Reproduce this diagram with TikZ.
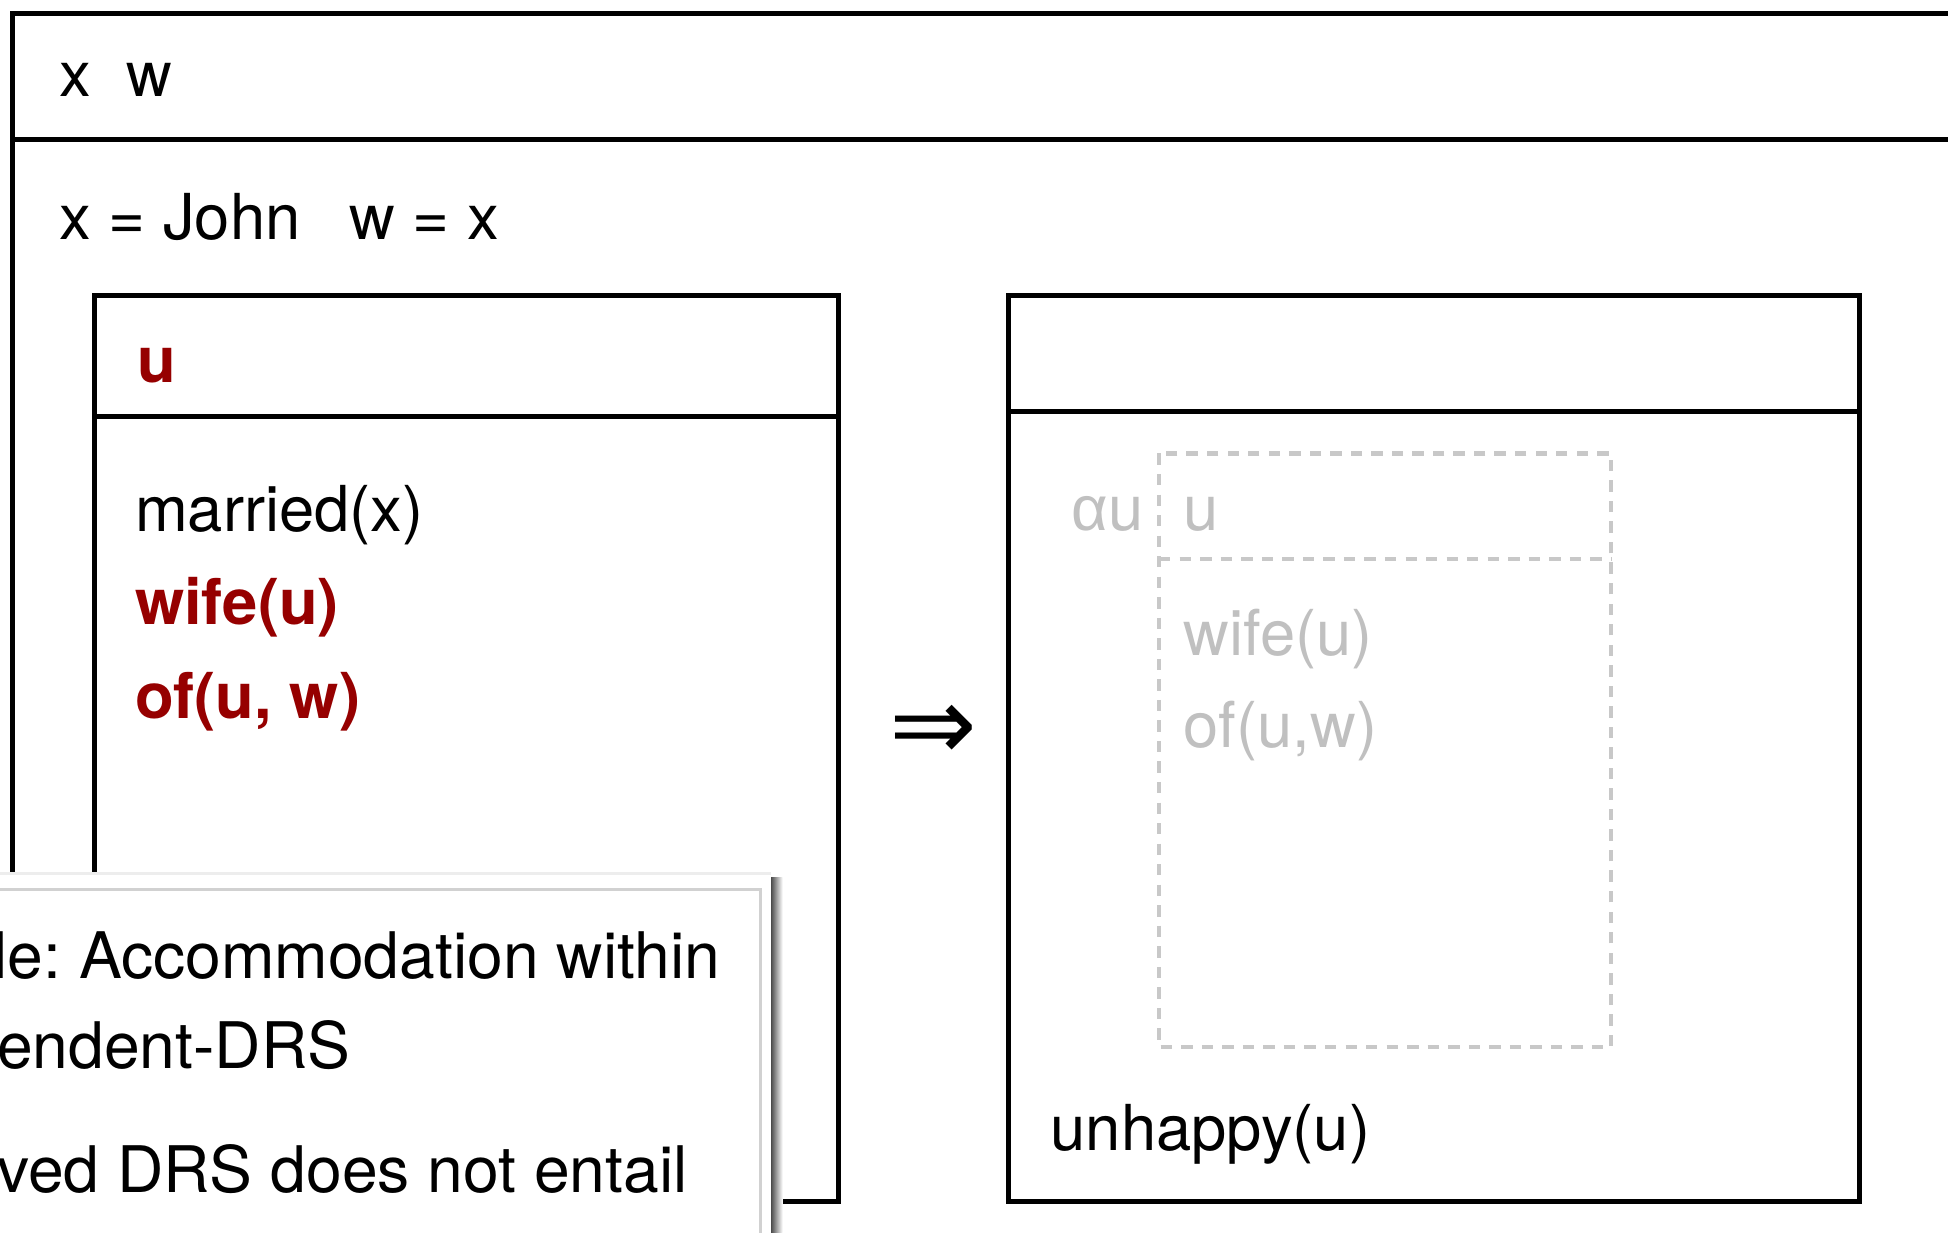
\documentclass[tikz,border=0pt]{standalone}
\usepackage{fontspec}
\setmainfont{TeX Gyre Heros}
\newfontfamily\alphafont{Liberation Sans}
\newfontfamily\arrowfont{DejaVu Sans}
\definecolor{drsred}{RGB}{150,0,0}
\definecolor{ghost}{RGB}{192,192,192}
\definecolor{ghostline}{RGB}{200,200,200}
\tikzset{
  box/.style={draw=black, line width=1.2pt},
  ghostbox/.style={draw=ghostline, line width=0.95pt, dash pattern=on 2.6pt off 2.1pt},
  txt/.style={anchor=base west, inner sep=0pt, font=\fontsize{14.5}{17}\selectfont},
  poptxt/.style={anchor=base west, inner sep=0pt, font=\fontsize{14.7}{17}\selectfont},
  redtxt/.style={txt, text=drsred, font=\fontsize{14.5}{17}\selectfont\bfseries},
  ghosttxt/.style={txt, text=ghost},
}
\begin{document}
\frenchspacing
\begin{tikzpicture}[x=0.01cm, y=-0.01cm]
\useasboundingbox (0,0) rectangle (1568,992);
\clip (0,0) rectangle (1568,992);
\fill[white] (0,0) rectangle (1568,992);

% outer DRS
\draw[box] (1600,11) -- (10,11) -- (10,1010);
\draw[box] (10,112) -- (1600,112);
\node[txt] (outU) at (47,78) {x\kern 8.2pt w};
\node[txt] (outC) at (47,193) {x = John\hspace{11.2pt}w = x};

% antecedent DRS
\draw[box] (76,238) rectangle (675,967);
\draw[box] (76,335) -- (675,335);
\node[redtxt] (antU) at (110,308) {u};
\node[txt] (c1) at (108,428) {married(x)};
\node[redtxt] (c2) at (108,503) {wife(u)};
\node[redtxt] (c3) at (108,578) {of(u, w)};

% implication
\node[inner sep=0pt, font=\arrowfont\fontsize{24}{25}\selectfont] (impl) at (751,590) {⇒};

% consequent DRS
\draw[box] (812,238) rectangle (1497,967);
\draw[box] (812,331) -- (1497,331);
\draw[ghostbox] (933,365) rectangle (1297,843);
\draw[ghostbox] (933,450) -- (1297,450);
\node[ghosttxt] (alpha) at (862,427) {{\alphafont α}u};
\node[ghosttxt] (gu) at (952,427) {u};
\node[ghosttxt] (g1) at (952,528) {wife(u)};
\node[ghosttxt] (g2) at (952,602) {of(u,w)};
\node[txt] (unh) at (845,926) {unhappy(u)};

% popup panel
\shade[left color=black!75, right color=white] (620,706) rectangle (630,1010);
\fill[white] (-20,703) rectangle (621,1010);
\draw[black!7, line width=0.6pt] (-20,703) -- (621,703);
\draw[black!18, line width=0.6pt] (-20,716) -- (612,716) -- (612,1010);
\node[poptxt] (p1) at (-6,788) {le: Accommodation within};
\node[poptxt] (p2) at (-3,860) {endent-DRS};
\node[poptxt] (p3) at (-3,960) {ved DRS does not entail};
\end{tikzpicture}
\end{document}
